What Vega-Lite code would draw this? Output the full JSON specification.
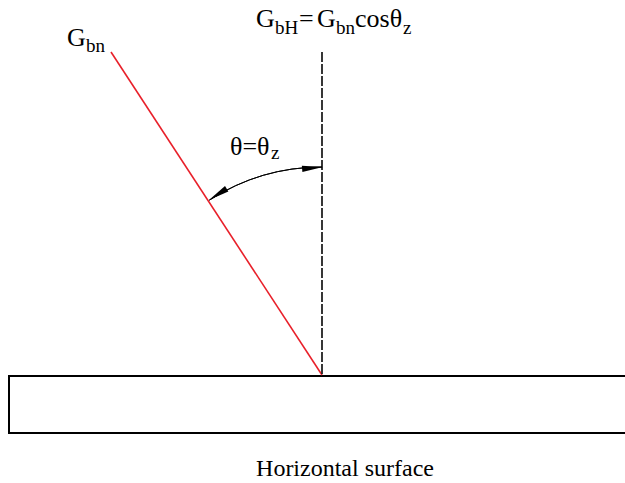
{
  "$schema": "https://vega.github.io/schema/vega-lite/v6.json",
  "width": 625,
  "height": 483,
  "autosize": {"type": "none"},
  "padding": 0,
  "background": "white",
  "config": {"view": {"stroke": null}},
  "datasets": {
    "surface": [{"x": 9, "y": 376, "x2": 640, "y2": 433}],
    "beam": [{"x": 111, "y": 52, "x2": 322, "y2": 375}],
    "normal": [{"x": 322, "y": 52, "y2": 375}],
    "arc": [{"x": 322, "y": 375, "r": 208, "a1": -32.8, "a2": 0}],
    "heads": [{"x": 323, "y": 167, "dir": -5}, {"x": 209, "y": 200, "dir": 147.5}],
    "main": [
      {"x": 67, "y": 46, "t": "G"},
      {"x": 256, "y": 27, "t": "G"},
      {"x": 299, "y": 27, "t": "="},
      {"x": 317, "y": 27, "t": "G"},
      {"x": 355, "y": 27, "t": "cosθ"},
      {"x": 230, "y": 155, "t": "θ=θ"}
    ],
    "sub": [
      {"x": 86, "y": 52, "t": "bn"},
      {"x": 275, "y": 34, "t": "bH"},
      {"x": 336, "y": 34, "t": "bn"},
      {"x": 403, "y": 34, "t": "z"},
      {"x": 271, "y": 159, "t": "z"}
    ],
    "caption": [{"x": 345, "y": 476, "t": "Horizontal surface"}]
  },
  "layer": [
    {
      "data": {"name": "surface"},
      "mark": {"type": "rect", "fill": "white", "stroke": "black", "strokeWidth": 2},
      "encoding": {
        "x": {"field": "x", "type": "quantitative", "scale": {"domain": [0, 625], "range": [0, 625]}, "axis": null},
        "x2": {"field": "x2"},
        "y": {"field": "y", "type": "quantitative", "scale": {"domain": [0, 483], "range": [0, 483]}, "axis": null},
        "y2": {"field": "y2"}
      }
    },
    {
      "data": {"name": "beam"},
      "mark": {"type": "rule", "color": "#e8202a", "strokeWidth": 1.6},
      "encoding": {
        "x": {"field": "x", "type": "quantitative", "scale": {"domain": [0, 625], "range": [0, 625]}, "axis": null},
        "x2": {"field": "x2"},
        "y": {"field": "y", "type": "quantitative", "scale": {"domain": [0, 483], "range": [0, 483]}, "axis": null},
        "y2": {"field": "y2"}
      }
    },
    {
      "data": {"name": "normal"},
      "mark": {"type": "rule", "color": "#222222", "strokeWidth": 1.8, "strokeDash": [10, 2]},
      "encoding": {
        "x": {"field": "x", "type": "quantitative", "scale": {"domain": [0, 625], "range": [0, 625]}, "axis": null},
        "y": {"field": "y", "type": "quantitative", "scale": {"domain": [0, 483], "range": [0, 483]}, "axis": null},
        "y2": {"field": "y2"}
      }
    },
    {
      "data": {"name": "arc"},
      "mark": {"type": "arc", "filled": false, "stroke": "black", "strokeWidth": 1},
      "encoding": {
        "x": {"field": "x", "type": "quantitative", "scale": {"domain": [0, 625], "range": [0, 625]}, "axis": null},
        "y": {"field": "y", "type": "quantitative", "scale": {"domain": [0, 483], "range": [0, 483]}, "axis": null},
        "radius": {"field": "r", "type": "quantitative", "scale": {"type": "linear", "domain": [0, 625], "range": [0, 625], "zero": true}},
        "radius2": {"field": "r"},
        "theta": {"field": "a1", "type": "quantitative", "stack": null, "scale": {"type": "linear", "domain": [0, 360], "range": [0, 6.283185307]}},
        "theta2": {"field": "a2"}
      }
    },
    {
      "data": {"name": "heads"},
      "mark": {"type": "point", "shape": "M0,0 L-2,-0.3 L-2,0.3 Z", "size": 440, "filled": true, "color": "black", "opacity": 1},
      "encoding": {
        "x": {"field": "x", "type": "quantitative", "scale": {"domain": [0, 625], "range": [0, 625]}, "axis": null},
        "y": {"field": "y", "type": "quantitative", "scale": {"domain": [0, 483], "range": [0, 483]}, "axis": null},
        "angle": {"field": "dir", "type": "quantitative", "scale": {"domain": [0, 360], "range": [0, 360]}}
      }
    },
    {
      "data": {"name": "main"},
      "mark": {"type": "text", "font": "Liberation Serif", "fontSize": 26, "align": "left", "baseline": "alphabetic", "color": "black"},
      "encoding": {
        "x": {"field": "x", "type": "quantitative", "scale": {"domain": [0, 625], "range": [0, 625]}, "axis": null},
        "y": {"field": "y", "type": "quantitative", "scale": {"domain": [0, 483], "range": [0, 483]}, "axis": null},
        "text": {"field": "t"}
      }
    },
    {
      "data": {"name": "sub"},
      "mark": {"type": "text", "font": "Liberation Serif", "fontSize": 19, "align": "left", "baseline": "alphabetic", "color": "black"},
      "encoding": {
        "x": {"field": "x", "type": "quantitative", "scale": {"domain": [0, 625], "range": [0, 625]}, "axis": null},
        "y": {"field": "y", "type": "quantitative", "scale": {"domain": [0, 483], "range": [0, 483]}, "axis": null},
        "text": {"field": "t"}
      }
    },
    {
      "data": {"name": "caption"},
      "mark": {"type": "text", "font": "Liberation Serif", "fontSize": 24, "align": "center", "baseline": "alphabetic", "color": "black"},
      "encoding": {
        "x": {"field": "x", "type": "quantitative", "scale": {"domain": [0, 625], "range": [0, 625]}, "axis": null},
        "y": {"field": "y", "type": "quantitative", "scale": {"domain": [0, 483], "range": [0, 483]}, "axis": null},
        "text": {"field": "t"}
      }
    }
  ]
}
